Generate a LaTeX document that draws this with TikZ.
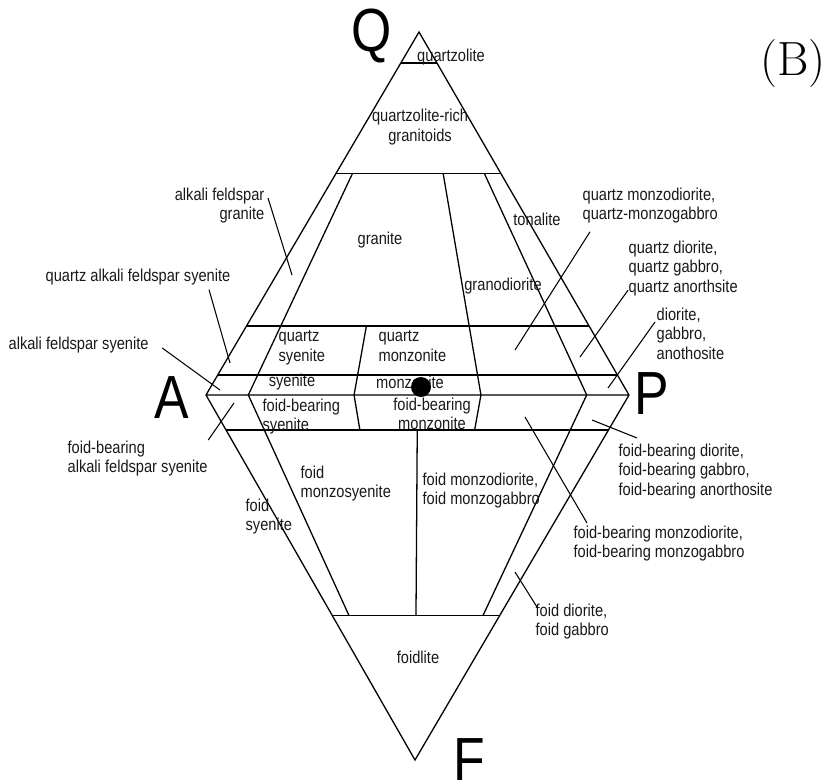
\documentclass[tikz,border=0pt]{standalone}
\usepackage{fontspec}
\setsansfont{Liberation Sans}[FakeStretch=0.85]
\usetikzlibrary{calc}

\newcommand{\lblsize}{\sffamily\fontsize{14.7}{16.6}\selectfont}

\begin{document}
\begin{tikzpicture}[x=0.03cm,y=-0.03cm,line width=1.1pt,
 lbl/.style={font=\lblsize,inner sep=0pt,align=left,text=black!90},
 corner/.style={font=\sffamily\fontsize{52}{52}\selectfont,inner sep=0pt},
 lead/.style={line width=0.9pt},
 dot/.style={circle,fill,minimum size=6mm,inner sep=0pt}]
\useasboundingbox (0,0) rectangle (835,783);
% corners of the double triangle
\coordinate (Q) at (419,32);
\coordinate (A) at (206,395);
\coordinate (P) at (629,395);
\coordinate (F) at (415,760);
\foreach \n/\r in {10/0.1,35/0.35,50/0.5,65/0.65,90/0.9}{\coordinate (ap\n) at ($(A)!\r!(P)$);}
\draw (Q) -- (A) -- (F) -- (P) -- cycle (A) -- (P);
% horizontal field boundaries
\foreach \f in {0.085,0.39,0.81,0.945}{\draw ($(Q)!\f!(A)$) -- ($(Q)!\f!(P)$);}
\foreach \f in {0.904,0.395}{\draw ($(F)!\f!(A)$) -- ($(F)!\f!(P)$);}
% radial field boundaries
\draw ($(Q)!0.39!(ap10)$) -- (ap10) -- ($(F)!0.395!(ap10)$);
\draw ($(Q)!0.81!(ap35)$) -- (ap35) -- ($(F)!0.904!(ap35)$);
\draw ($(Q)!0.39!(ap65)$) -- (ap65) -- ($(F)!0.904!(ap65)$);
\draw ($(Q)!0.39!(ap90)$) -- (ap90) -- ($(F)!0.395!(ap90)$);
\draw ($(F)!0.904!(ap50)$) -- ($(F)!0.395!(ap50)$);
% field names
\node[lbl] (qzl) at (451,57) {quartzolite};
\node[lbl,align=center] (qrg) at (420,127) {quartzolite-rich\\granitoids};
\node[lbl] (gra) at (380,240) {granite};
\node[lbl] (ton) at (537,219) {tonalite};
\node[lbl] (grd) at (503,286) {granodiorite};
\node[lbl,anchor=north west] (qsy) at (278,330) {quartz\\syenite};
\node[lbl,anchor=north west] (qmz) at (378,330) {quartz\\monzonite};
\node[lbl] (sye) at (292,382) {syenite};
\node[lbl] (mzn) at (410,382) {monzonite};
\node[lbl,anchor=north west] (fbsy) at (262,398) {foid-bearing\\syenite};
\node[lbl,align=center] (fbmz) at (432,414) {foid-bearing\\monzonite};
\node[lbl,anchor=north west] (fmsy) at (300,465) {foid\\monzosyenite};
\node[lbl,anchor=north west] (fmd) at (422,472) {foid monzodiorite,\\foid monzogabbro};
\node[lbl,anchor=north west] (fsy) at (245,498) {foid\\syenite};
\node[lbl] (fdl) at (418,657) {foidlite};
% names outside, with leaders
\node[lbl,align=right,anchor=north east] (afg) at (265,187) {alkali feldspar\\granite};
\node[lbl,anchor=west] (qafs) at (45,277) {quartz alkali feldspar syenite};
\node[lbl,anchor=west] (afs) at (8,345) {alkali feldspar syenite};
\node[lbl,anchor=north west] (fbafs) at (67,440) {foid-bearing\\alkali feldspar syenite};
\node[lbl,anchor=north west] (qmd) at (582,187) {quartz monzodiorite,\\quartz-monzogabbro};
\node[lbl,anchor=north west] (qdi) at (628,240) {quartz diorite,\\quartz gabbro,\\quartz anorthsite};
\node[lbl,anchor=north west] (dio) at (656,307) {diorite,\\gabbro,\\anothosite};
\node[lbl,anchor=north west] (fbdi) at (618,443) {foid-bearing diorite,\\foid-bearing gabbro,\\foid-bearing anorthosite};
\node[lbl,anchor=north west] (fbmd) at (573,525) {foid-bearing monzodiorite,\\foid-bearing monzogabbro};
\node[lbl,anchor=north west] (fdi) at (535,603) {foid diorite,\\foid gabbro};
\coordinate (afg-t) at (292,275);
\coordinate (qafs-t) at (230,363);
\coordinate (afs-t) at (220,390);
\coordinate (fbafs-t) at (234,403);
\coordinate (qmd-t) at (515,350);
\coordinate (qdi-t) at (580,357);
\coordinate (dio-t) at (608,388);
\coordinate (fbdi-t) at (592,420);
\coordinate (fbmd-t) at (525,417);
\coordinate (fdi-t) at (515,572);
\draw[lead] ($(afg.north east)+(3,11)$) -- (afg-t);
\draw[lead] ($(qafs.south east)+(-22,4)$) -- (qafs-t);
\draw[lead] ($(afs.east)+(13,3)$) -- (afs-t);
\draw[lead] (fbafs.north east) -- (fbafs-t);
\draw[lead] ($(qmd.south west)+(8,8)$) -- (qmd-t);
\draw[lead] ($(qdi.south west)+(0,-6)$) -- (qdi-t);
\draw[lead] ($(dio.north west)+(-1,15)$) -- (dio-t);
\draw[lead] ($(fbdi.north west)+(19,-5)$) -- (fbdi-t);
\draw[lead] ($(fbmd.north west)+(14,-2)$) -- (fbmd-t);
\draw[lead] ($(fdi.north west)+(2,4)$) -- (fdi-t);
% end members
\node[corner] (q) at (372,36) {Q};
\node[corner] (a) at (172,398) {A};
\node[corner] (p) at (652,394) {P};
\node[corner,anchor=base] (f) at (469,780) {F};
\node[font=\fontsize{41}{41}\selectfont,inner sep=0pt] (b) at (793,64) {(B)};
\node[dot] (pt) at (421,387) {};
\end{tikzpicture}
\end{document}
